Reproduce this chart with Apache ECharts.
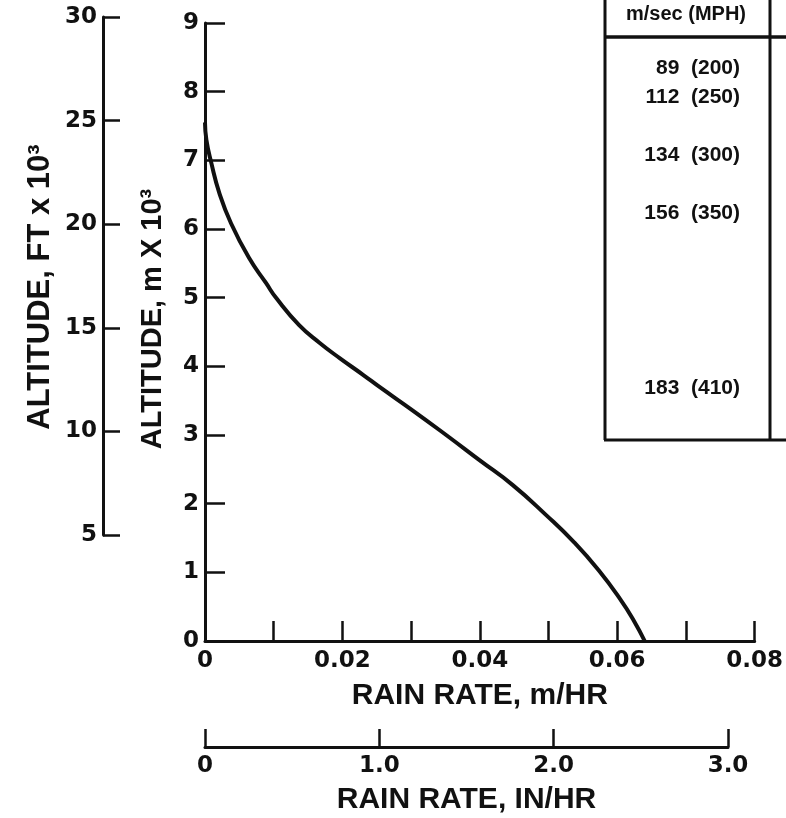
<!DOCTYPE html>
<html>
<head>
<meta charset="utf-8">
<title>Rain rate vs altitude</title>
<script src="https://cdn.jsdelivr.net/npm/echarts@6/dist/echarts.min.js"></script>
<style>
  html, body { margin: 0; padding: 0; background: #fff; }
  #chart { width: 786px; height: 818px; }
</style>
</head>
<body>
<div id="chart"></div>
<script>
// curve: rain rate (m/hr) against altitude (m x 10^3)
const rainRate = [0, 0.0002, 0.0009, 0.0021, 0.0038, 0.0064, 0.0089, 0.0104, 0.0137, 0.0167, 0.0196, 0.0231, 0.0254, 0.0302, 0.0351, 0.0400, 0.0448, 0.0497, 0.0537, 0.0573, 0.0605, 0.0624, 0.0640]
const altitude = [7.55, 7.3, 6.97, 6.52, 6.08, 5.58, 5.21, 4.99, 4.60, 4.34, 4.12, 3.87, 3.70, 3.36, 3.00, 2.63, 2.27, 1.83, 1.44, 1.03, 0.60, 0.30, 0]

const xTickLabels = ['0', '0.02', '0.04', '0.06', '0.08']
const inTickLabels = ['0', '1.0', '2.0', '3.0']

// table on the right: speed, and the altitude (m x 10^3) of its row
const tableHeader = 'm/sec (MPH)'
const speeds = ['89  (200)', '112  (250)', '134  (300)', '156  (350)', '183  (410)']
const speedAlt = [8.34, 7.92, 7.07, 6.23, 3.68]

const ink = '#111'
const numFont = { fontFamily: 'DejaVu Sans', fontWeight: 'bold', fontSize: 23, color: ink }
const titleFont = { fontFamily: 'Liberation Sans', fontWeight: 'bold', fontSize: 30, color: ink }
const axisLine = { show: true, lineStyle: { color: ink, width: 3 } }

let chart = echarts.init(document.getElementById('chart'))

chart.setOption({
  animation: false,
  backgroundColor: '#fff',
  grid: [
    { left: 205, top: 23, width: 550, height: 618 }, // main plot
    { left: 205, top: 700, width: 523, height: 47 }, // IN/HR scale
    { left: 103, top: 17, width: 10, height: 518 } // FT scale
  ],
  xAxis: [
    {
      gridIndex: 0,
      type: 'value',
      min: 0,
      max: 0.08,
      interval: 0.01,
      name: 'RAIN RATE, m/HR',
      nameLocation: 'middle',
      nameGap: 40,
      nameTextStyle: titleFont,
      axisLine: axisLine,
      axisTick: { show: true, inside: true, length: 20, lineStyle: { color: ink, width: 2.5 } },
      axisLabel: {
        ...numFont,
        margin: 9,
        formatter: (v) => {
          let i = Math.round(v * 100)
          return i % 2 === 0 ? xTickLabels[i / 2] : ''
        }
      },
      splitLine: { show: false }
    },
    {
      gridIndex: 1,
      type: 'value',
      min: 0,
      max: 3,
      interval: 1,
      name: 'RAIN RATE, IN/HR',
      nameLocation: 'middle',
      nameGap: 38,
      nameTextStyle: titleFont,
      axisLine: axisLine,
      axisTick: { show: true, inside: true, length: 18, lineStyle: { color: ink, width: 2.5 } },
      axisLabel: { ...numFont, margin: 8, formatter: (v) => inTickLabels[Math.round(v)] },
      splitLine: { show: false }
    },
    { gridIndex: 2, type: 'value', show: false }
  ],
  yAxis: [
    {
      gridIndex: 0,
      type: 'value',
      min: 0,
      max: 9,
      interval: 1,
      name: 'ALTITUDE, m X 10³',
      nameLocation: 'middle',
      nameRotate: 90,
      nameGap: 38,
      nameTextStyle: { ...titleFont, fontSize: 29, padding: [0, 0, 0, 26] },
      axisLine: axisLine,
      axisTick: { show: true, inside: true, length: 20, lineStyle: { color: ink, width: 2.5 } },
      axisLabel: { ...numFont, margin: 6 },
      splitLine: { show: false }
    },
    { gridIndex: 1, type: 'value', show: false },
    {
      gridIndex: 2,
      type: 'value',
      min: 5,
      max: 30,
      interval: 5,
      name: 'ALTITUDE, FT x 10³',
      nameLocation: 'middle',
      nameRotate: 90,
      nameGap: 47,
      nameTextStyle: { ...titleFont, fontSize: 31, padding: [0, 22, 0, 0] },
      axisLine: axisLine,
      axisTick: { show: true, inside: true, length: 17, lineStyle: { color: ink, width: 2.5 } },
      axisLabel: { ...numFont, margin: 6 },
      splitLine: { show: false }
    }
  ],
  series: [
    {
      type: 'line',
      xAxisIndex: 0,
      yAxisIndex: 0,
      data: rainRate.map((r, i) => [r, altitude[i]]),
      smooth: 0.5,
      showSymbol: false,
      lineStyle: { color: ink, width: 4 }
    }
  ]
})

// table frame and its rows, placed by the main altitude axis
let rowText = speeds.map((s, i) => {
  let p = chart.convertToPixel({ xAxisIndex: 0, yAxisIndex: 0 }, [0, speedAlt[i]])
  return {
    type: 'text',
    x: 740,
    y: p[1],
    style: { text: s, align: 'right', verticalAlign: 'middle', font: 'bold 21px "Liberation Sans"', fill: ink }
  }
})
let frame = { stroke: ink, lineWidth: 3 }
chart.setOption({
  graphic: [
    { type: 'line', shape: { x1: 605, y1: -5, x2: 605, y2: 440 }, style: frame },
    { type: 'line', shape: { x1: 770, y1: -5, x2: 770, y2: 440 }, style: frame },
    { type: 'line', shape: { x1: 605, y1: 37, x2: 790, y2: 37 }, style: { stroke: ink, lineWidth: 3.5 } },
    { type: 'line', shape: { x1: 604, y1: 440, x2: 790, y2: 440 }, style: frame },
    {
      type: 'text',
      x: 686,
      y: 14,
      style: { text: tableHeader, align: 'center', verticalAlign: 'middle', font: 'bold 20px "Liberation Sans"', fill: ink }
    },
    ...rowText
  ]
})
</script>
</body>
</html>
